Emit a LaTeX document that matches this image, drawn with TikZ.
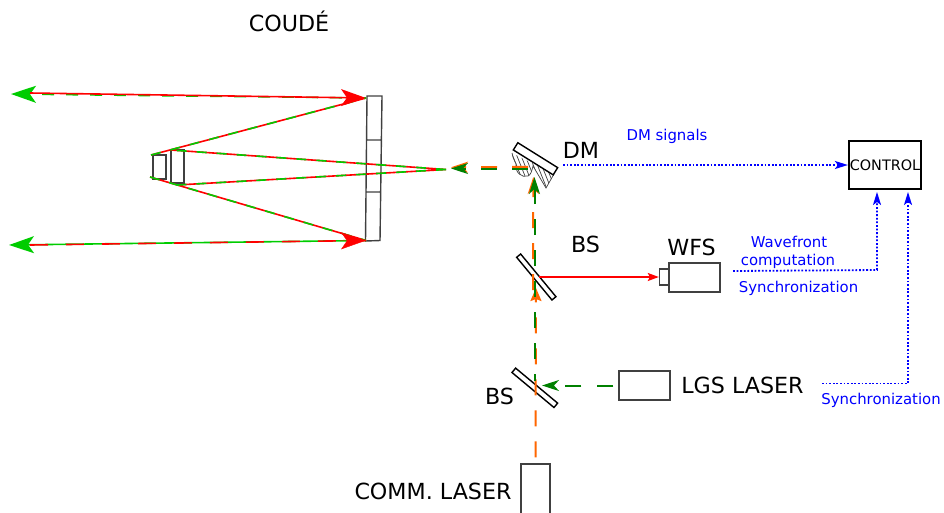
\documentclass[tikz,border=0pt]{standalone}
\usepackage{fontspec}
\setmainfont{DejaVu Sans}
\usetikzlibrary{arrows.meta}
\definecolor{raygreen}{RGB}{0,204,0}
\definecolor{beamgreen}{RGB}{0,128,0}
\definecolor{beamorange}{RGB}{255,102,0}
\definecolor{sigblue}{RGB}{0,0,255}
\tikzset{
  box/.style={draw=black!75,line width=1.4pt,inner sep=0pt,minimum width=#1},
  big/.style={inner sep=0pt,font=\fontsize{22.2}{24}\selectfont},
  small/.style={inner sep=0pt,text=sigblue,font=\fontsize{14.9}{17}\selectfont},
  redray/.style={red,line width=1.6pt},
  greenray/.style={raygreen,line width=1.6pt,dash pattern=on 10pt off 10pt},
  sig/.style={sigblue,line width=1.8pt,dash pattern=on 1.8pt off 1.8pt,-{Stealth[length=13pt,width=8pt,inset=3pt]}},
  beam/.style={line width=2pt,dash pattern=on 16pt off 15pt},
  bigtip/.style={-{Stealth[length=25pt,width=17pt,inset=6pt]}},
  midtip/.style={-{Stealth[length=17pt,width=11pt,inset=5pt]}},
  lowtip/.style={-{Stealth[length=13pt,width=11pt,inset=2pt]}}
}
\begin{document}
\begin{tikzpicture}[x=1pt,y=-1pt]
 \useasboundingbox (0,0) rectangle (944,512);
 % telescope
 \node[box=13pt,minimum height=24pt] (sec1) at (159.5,167) {};
 \node[box=13pt,minimum height=33pt] (sec2) at (177.5,166.5) {};
 \draw[black!75,line width=1.4pt] (367,96) -- (382,96) -- (380,240.5) -- (365.5,241) -- cycle
   (367,140) -- (381.5,140) (366,192) -- (381,192);
 \coordinate (focus) at (446,169.5);
 \coordinate (p1) at (366,98);
 \coordinate (p2) at (366,240.5);
 \coordinate (s1) at (151,155);
 \coordinate (s2) at (150,177);
 \coordinate (s3) at (171,150);
 \coordinate (s4) at (177,185);
 \coordinate (far1) at (11,94);
 \coordinate (far2) at (9,245);
 \foreach \st in {redray,greenray} {
   \draw[\st] (focus) -- (s3) (focus) -- (s4) (s1) -- (p1) (s2) -- (p2);
 }
 \draw[raygreen,line width=1.6pt,dash pattern=on 12pt off 12pt,bigtip] (p1) -- (far1);
 \draw[raygreen,line width=1.6pt,bigtip] (p2) -- (far2);
 \draw[redray,bigtip] (30,93) -- (p1);
 \draw[redray,dash pattern=on 18pt off 18pt] (30,245) -- (p2);
 \draw[red,bigtip] (340,240.8) -- (p2);
 % DM
 \begin{scope}
   \clip (512,153) .. controls (513,159) and (515,161) .. (516,164)
     .. controls (515,173) and (522,178) .. (528,176)
     .. controls (531,175) and (532,170) .. (533,166)
     -- (546,188) -- (554,174) -- cycle;
   \foreach \i in {0,...,14} {
     \draw[black!75,line width=.7pt] (502+4.2*\i,150) -- (518+4.2*\i,190);
   }
 \end{scope}
 \draw[black!75,line width=.7pt] (512,153) .. controls (513,159) and (515,161) .. (516,164)
     .. controls (515,173) and (522,178) .. (528,176)
     .. controls (531,175) and (532,170) .. (533,166)
     -- (546,188) -- (554,174);
 \node[draw,line width=1.4pt,fill=white,inner sep=0pt,minimum width=47pt,minimum height=8.5pt,rotate=-32] (dm) at (535.5,158.8) {};
 % splitters
 \node[draw,line width=1.4pt,inner sep=0pt,minimum width=55.4pt,minimum height=5.2pt,rotate=-50.4] (bs1) at (536.3,277) {};
 \node[draw,line width=1.4pt,inner sep=0pt,minimum width=54.7pt,minimum height=5.7pt,rotate=-39.8] (bs2) at (534.8,387.8) {};
 % boxes
 \node[box=10pt,minimum height=16pt] (cam) at (664.5,277) {};
 \node[box=51pt,minimum height=29pt] (wfs) at (694.5,277.5) {};
 \node[box=51pt,minimum height=29pt] (lgs) at (644.5,385.5) {};
 \node[box=29pt,minimum height=60pt] (comm) at (535.5,494) {};
 \node[draw,line width=2.2pt,inner sep=0pt,minimum width=72pt,minimum height=48pt,font=\fontsize{14.4}{16}\selectfont] (ctrl) at (885,165) {CONTROL};
 % beams
 \coordinate (b1) at (536,288);
 \coordinate (b2) at (533,290);
 \coordinate (b3) at (533.3,177);
 \coordinate (b4) at (534.5,381);
 \coordinate (b5) at (534.5,177);
 \coordinate (b6) at (528,166.8);
 \coordinate (b7) at (451,167.3);
 \coordinate (b8) at (528,168.5);
 \coordinate (b9) at (451,168.5);
 \coordinate (b10) at (542,385.5);
 \coordinate (r1) at (539,277);
 \draw[beamorange,beam,dash phase=25pt,lowtip] (comm.north) -- (b1);
 \draw[beamorange,beam,midtip] (b2) -- (b3);
 \draw[beamorange,beam,midtip] (b6) -- (b7);
 \draw[beamgreen,beam,dash phase=9pt,midtip] (b4) -- (b5);
 \draw[beamgreen,beam,midtip] (b8) -- (b9);
 \draw[beamgreen,line width=2pt,dash pattern=on 16pt off 16pt,dash phase=27pt,midtip] (lgs.west) -- (b10);
 \draw[red,line width=1.4pt,-{Stealth[length=11pt,width=8pt,inset=2pt]}] (r1) -- (cam.west);
 % signals
 \coordinate (d1) at (563,165);
 \coordinate (w1) at (733,271);
 \coordinate (w2) at (877,270);
 \coordinate (w3) at (877,192);
 \coordinate (y1) at (822,383.5);
 \coordinate (y2) at (908,383.5);
 \coordinate (y3) at (908,192);
 \draw[sig] (d1) -- (ctrl.west);
 \draw[sig] (w1) -- (w2) -- (w3);
 \draw[sig] (y1) -- (y2) -- (y3);
 % labels
 \node[big] (coude) at (289,21) {COUDÉ};
 \node[big] (dmlabel) at (581,150.5) {DM};
 \node[big] (bslabela) at (585.5,244) {BS};
 \node[big] (wfslabel) at (691.5,247) {WFS};
 \node[big] (bslabelb) at (499.5,396) {BS};
 \node[big] (lgslabel) at (742.5,385) {LGS LASER};
 \node[big] (commlabel) at (433,491.5) {COMM. LASER};
 \node[small] (dmsig) at (667,136) {DM signals};
 \node[small] (wavea) at (789,242) {Wavefront};
 \node[small] (waveb) at (788,261) {computation};
 \node[small] (synca) at (798.5,288.5) {Synchronization};
 \node[small] (syncb) at (881,400.5) {Synchronization};
\end{tikzpicture}
\end{document}
